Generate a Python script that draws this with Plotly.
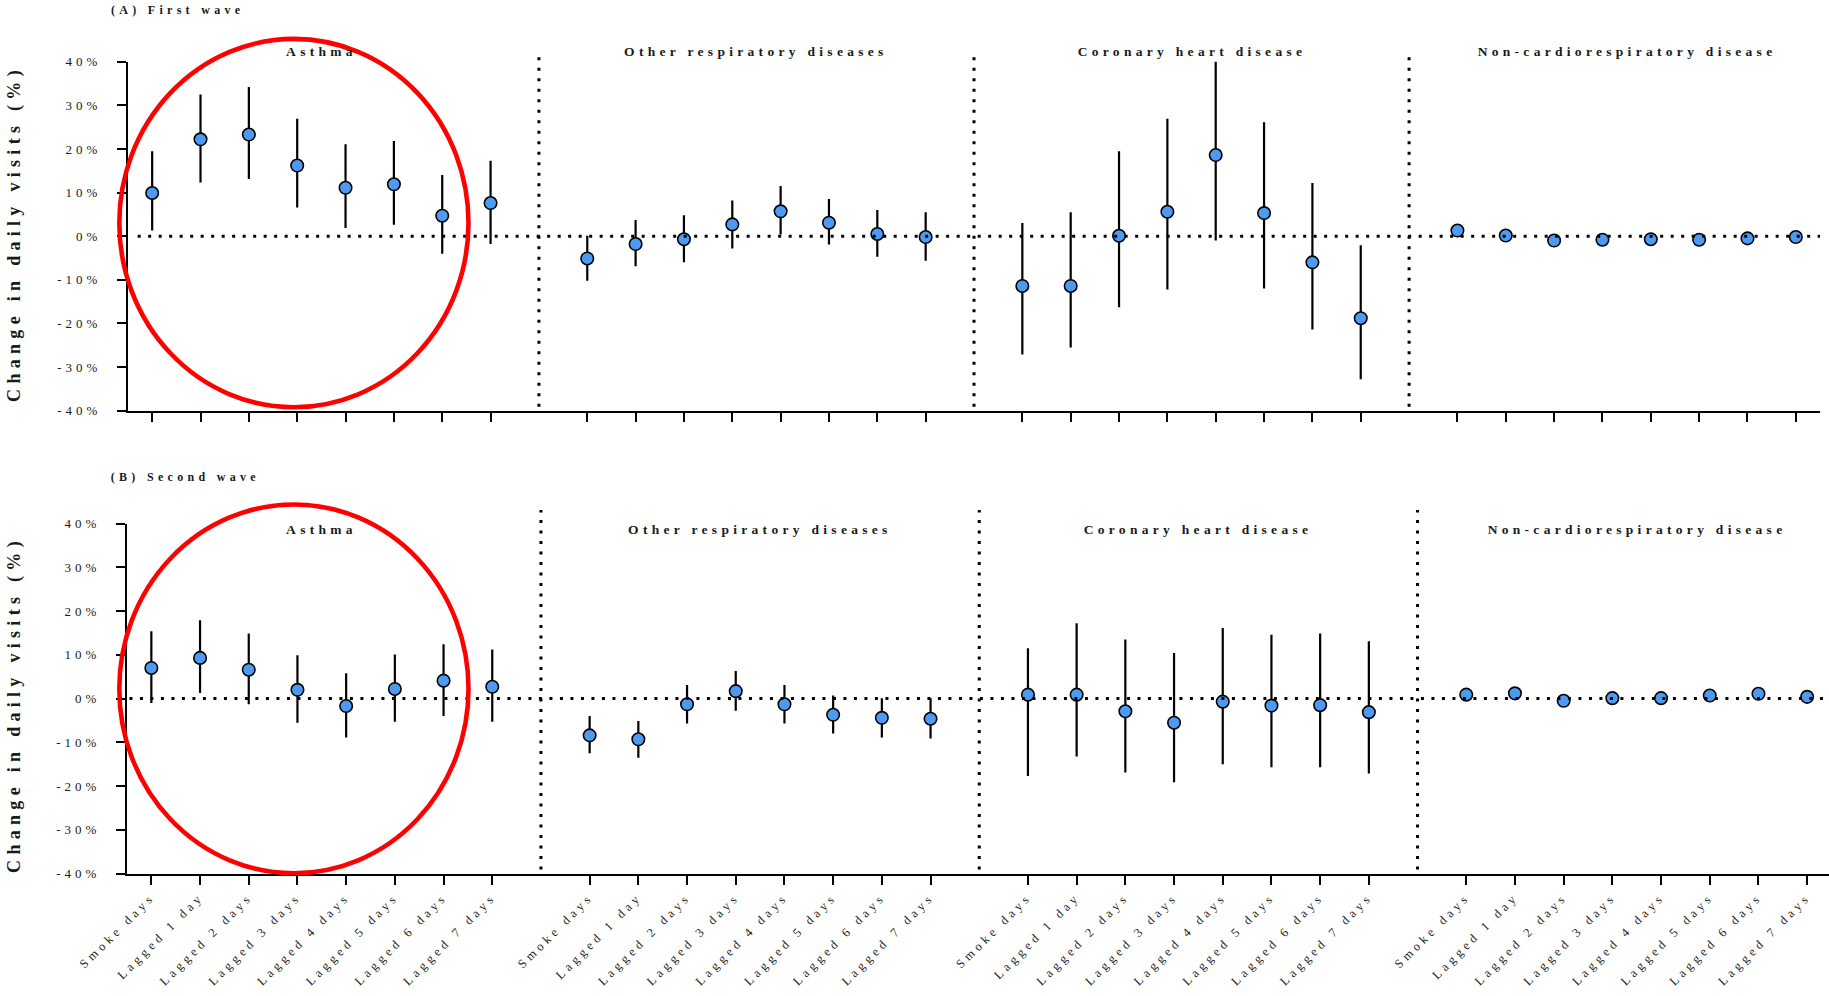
import plotly.graph_objects as go

# ---------------- data ----------------
categories = ["Smoke days", "Lagged 1 day", "Lagged 2 days", "Lagged 3 days",
              "Lagged 4 days", "Lagged 5 days", "Lagged 6 days", "Lagged 7 days"]
diseases = ["Asthma", "Other respiratory diseases", "Coronary heart disease",
            "Non-cardiorespiratory disease"]
panel_titles = ["(A) First wave", "(B) Second wave"]
y_title = "Change in daily visits (%)"
y_ticks = [-40, -30, -20, -10, 0, 10, 20, 30, 40]
y_ticktext = ["-40%", "-30%", "-20%", "-10%", "0%", "10%", "20%", "30%", "40%"]

# First wave: estimate, lower CI, upper CI (% change)
w1_asthma_est = [9.9, 22.2, 23.3, 16.2, 11.1, 11.9, 4.7, 7.6]
w1_asthma_lo = [1.3, 12.3, 13.1, 6.6, 1.9, 2.6, -4.0, -1.8]
w1_asthma_hi = [19.5, 32.5, 34.2, 26.9, 21.1, 21.8, 14.0, 17.3]

w1_resp_est = [-5.1, -1.8, -0.7, 2.7, 5.7, 3.1, 0.5, -0.2]
w1_resp_lo = [-10.2, -6.9, -6.0, -2.8, 0.4, -1.9, -4.7, -5.6]
w1_resp_hi = [0.1, 3.7, 4.8, 8.2, 11.5, 8.5, 6.0, 5.5]

w1_chd_est = [-11.4, -11.4, 0.1, 5.6, 18.6, 5.3, -6.0, -18.8]
w1_chd_lo = [-27.1, -25.5, -16.3, -12.2, -1.0, -12.0, -21.4, -32.8]
w1_chd_hi = [3.0, 5.5, 19.5, 26.9, 40.1, 26.1, 12.2, -2.1]

w1_noncr_est = [1.3, 0.15, -1.0, -0.8, -0.7, -0.8, -0.5, -0.2]
w1_noncr_lo = [0.9, -0.25, -1.4, -1.2, -1.1, -1.2, -0.9, -0.6]
w1_noncr_hi = [1.7, 0.55, -0.6, -0.4, -0.3, -0.4, -0.1, 0.2]

# Second wave
w2_asthma_est = [7.0, 9.3, 6.6, 2.0, -1.7, 2.2, 4.1, 2.7]
w2_asthma_lo = [-1.0, 1.3, -1.3, -5.5, -8.9, -5.3, -4.0, -5.3]
w2_asthma_hi = [15.4, 17.9, 14.9, 9.9, 5.8, 10.1, 12.4, 11.2]

w2_resp_est = [-8.4, -9.3, -1.3, 1.7, -1.3, -3.7, -4.4, -4.6]
w2_resp_lo = [-12.5, -13.5, -5.7, -2.8, -5.7, -8.0, -8.9, -9.1]
w2_resp_hi = [-4.0, -5.1, 3.1, 6.3, 3.1, 0.7, 0.1, 0.1]

w2_chd_est = [0.9, 0.9, -2.9, -5.5, -0.7, -1.6, -1.5, -3.1]
w2_chd_lo = [-17.7, -13.2, -16.9, -19.1, -15.0, -15.7, -15.7, -17.1]
w2_chd_hi = [11.5, 17.2, 13.5, 10.4, 16.1, 14.6, 14.9, 13.1]

w2_noncr_est = [0.9, 1.2, -0.5, 0.1, 0.1, 0.7, 1.1, 0.4]
w2_noncr_lo = [0.5, 0.8, -0.9, -0.3, -0.3, 0.3, 0.7, 0.0]
w2_noncr_hi = [1.3, 1.6, -0.1, 0.5, 0.5, 1.1, 1.5, 0.8]

waves = [
    [(w1_asthma_est, w1_asthma_lo, w1_asthma_hi),
     (w1_resp_est, w1_resp_lo, w1_resp_hi),
     (w1_chd_est, w1_chd_lo, w1_chd_hi),
     (w1_noncr_est, w1_noncr_lo, w1_noncr_hi)],
    [(w2_asthma_est, w2_asthma_lo, w2_asthma_hi),
     (w2_resp_est, w2_resp_lo, w2_resp_hi),
     (w2_chd_est, w2_chd_lo, w2_chd_hi),
     (w2_noncr_est, w2_noncr_lo, w2_noncr_hi)],
]

# ---------------- layout helpers ----------------
W, H = 1829, 996
FONT = "Liberation Serif"
TXT = "#1a1a1a"
BLUE = "#4C9AF2"
n_cat = len(categories)
slot = n_cat + 1  # one empty slot between disease groups


def xpos(g, i):
    return g * slot + i


def py(pix):  # pixel from top -> paper y
    return 1 - pix / H


def px(pix):
    return pix / W


tickvals = [xpos(g, i) for g in range(len(diseases)) for i in range(n_cat)]
ticktext = [categories[i] for g in range(len(diseases)) for i in range(n_cat)]

fig = go.Figure()

axes = [("x", "y"), ("x2", "y2")]
for w, groups in enumerate(waves):
    xa, ya = axes[w]
    for g, (est, lo, hi) in enumerate(groups):
        fig.add_trace(go.Scatter(
            x=[xpos(g, i) for i in range(n_cat)],
            y=est,
            mode="markers",
            xaxis=xa, yaxis=ya,
            marker=dict(size=12.5, color=BLUE, line=dict(color="black", width=1.6)),
            error_y=dict(type="data", symmetric=False,
                         array=[h - e for h, e in zip(hi, est)],
                         arrayminus=[e - l for e, l in zip(est, lo)],
                         color="black", thickness=2.2, width=0),
            showlegend=False,
            hoverinfo="skip",
        ))

# panel geometry (pixels)
top_y40, top_ym40 = 61.7, 410.7
bot_y40, bot_ym40 = 523.5, 873.7
top_x0, top_x1 = 128, 1820
bot_x0, bot_x1 = 127, 1829
bot_range_hi = -0.5 + (bot_x1 - bot_x0) / 48.7

common_y = dict(range=[-40, 40], tickvals=y_ticks, ticktext=y_ticktext,
                ticks="outside", ticklen=9, tickwidth=2, tickcolor="black",
                showline=True, linewidth=2, linecolor="black",
                showgrid=False, zeroline=False,
                ticklabelstandoff=13,
                tickfont=dict(family=FONT, size=13, color=TXT))
common_x = dict(tickvals=tickvals, ticks="outside", ticklen=9, tickwidth=2,
                tickcolor="black", showline=True, linewidth=2, linecolor="black",
                showgrid=False, zeroline=False)

fig.update_layout(
    width=W, height=H,
    margin=dict(l=0, r=0, t=0, b=0, autoexpand=False),
    paper_bgcolor="white", plot_bgcolor="white",
    font=dict(family=FONT, color=TXT),
    xaxis=dict(domain=[px(top_x0), px(top_x1)], range=[-0.5, 34.5], anchor="y",
               showticklabels=False, **common_x),
    yaxis=dict(domain=[py(top_ym40), py(top_y40)], anchor="x", **common_y),
    xaxis2=dict(domain=[px(bot_x0), px(bot_x1)], range=[-0.5, bot_range_hi], anchor="y2",
                ticktext=ticktext, tickangle=-45,
                tickfont=dict(family=FONT, size=12.5, color=TXT), **common_x),
    yaxis2=dict(domain=[py(bot_ym40), py(bot_y40)], anchor="x2", **common_y),
)

DOT = "3px,7.5px"
shapes = []
# zero reference lines
shapes.append(dict(type="line", xref="x", yref="y", x0=-0.3, x1=34.5, y0=0, y1=0,
                   line=dict(color="black", width=3, dash=DOT), layer="above"))
shapes.append(dict(type="line", xref="x2", yref="y2", x0=-0.45, x1=bot_range_hi, y0=0, y1=0,
                   line=dict(color="black", width=3, dash=DOT), layer="above"))
# vertical separators between disease groups
for g in range(1, len(diseases)):
    xs = g * slot - 1
    shapes.append(dict(type="line", xref="x", yref="paper", x0=xs, x1=xs,
                       y0=py(406.7), y1=py(50),
                       line=dict(color="black", width=3, dash=DOT)))
    shapes.append(dict(type="line", xref="x2", yref="paper", x0=xs, x1=xs,
                       y0=py(869.6), y1=py(510),
                       line=dict(color="black", width=3, dash=DOT)))
# red highlight ellipses
shapes.append(dict(type="circle", xref="paper", yref="paper",
                   x0=px(119.3), x1=px(468.5), y0=py(407.2), y1=py(38.9),
                   line=dict(color="#ff0000", width=4.6), layer="above"))
shapes.append(dict(type="circle", xref="paper", yref="paper",
                   x0=px(119.3), x1=px(468.5), y0=py(873.3), y1=py(504.5),
                   line=dict(color="#ff0000", width=4.6), layer="above"))
fig.update_layout(shapes=shapes)

ann = []
# disease titles
for g, name in enumerate(diseases):
    cx = g * slot + (n_cat - 1) / 2
    ann.append(dict(text=name, xref="x", yref="paper", x=cx, y=py(52),
                    showarrow=False, xanchor="center", yanchor="middle",
                    font=dict(family=FONT, size=13.5, color=TXT, weight="bold")))
    ann.append(dict(text=name, xref="x2", yref="paper", x=cx, y=py(529),
                    showarrow=False, xanchor="center", yanchor="middle",
                    font=dict(family=FONT, size=13.5, color=TXT, weight="bold")))
# panel titles (centred on their measured extent)
ann.append(dict(text=panel_titles[0], xref="paper", yref="paper", x=px(177.5), y=py(10),
                showarrow=False, xanchor="center", yanchor="middle",
                font=dict(family=FONT, size=12, color=TXT, weight="bold")))
ann.append(dict(text=panel_titles[1], xref="paper", yref="paper", x=px(185.7), y=py(477),
                showarrow=False, xanchor="center", yanchor="middle",
                font=dict(family=FONT, size=12, color=TXT, weight="bold")))
# y-axis titles
ann.append(dict(text=y_title, xref="paper", yref="paper", x=px(14), y=py(234),
                showarrow=False, xanchor="center", yanchor="middle", textangle=-90,
                font=dict(family=FONT, size=18, color=TXT, weight="bold")))
ann.append(dict(text=y_title, xref="paper", yref="paper", x=px(14), y=py(705),
                showarrow=False, xanchor="center", yanchor="middle", textangle=-90,
                font=dict(family=FONT, size=18, color=TXT, weight="bold")))
fig.update_layout(annotations=ann)

css = ("html,body{margin:0;padding:0;overflow:hidden}"
       ".modebar-container{display:none}"
       ".xtick text,.x2tick text{letter-spacing:4px}"
       ".ytick text,.y2tick text{letter-spacing:4px}"
       ".annotation-text{letter-spacing:4.3px}"
       ".annotation-text[style*='font-size: 18px']{letter-spacing:5.3px}")
post = ("var s=document.createElement('style');s.textContent=\"" + css +
        "\";document.head.appendChild(s);")

fig.write_html("out.html", post_script=post, config={"displayModeBar": False})
